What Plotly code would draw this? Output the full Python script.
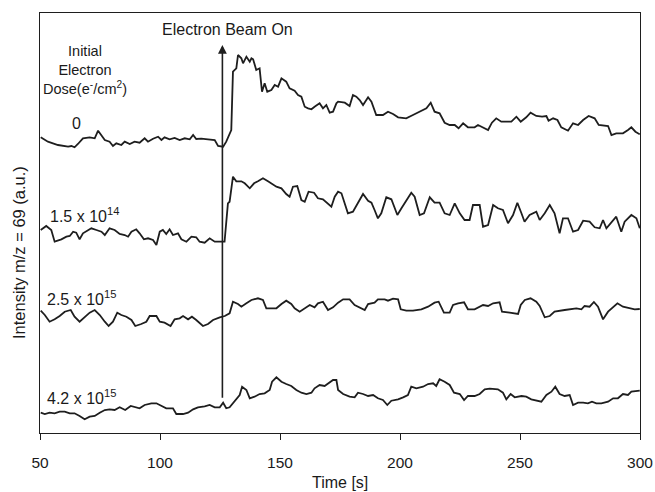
import plotly.graph_objects as go

# ---- data (time in s, intensity in arbitrary units, offsets included) ----
t0 = [50.3, 53.3, 57.5, 61.7, 63.1, 64.4, 65.8, 67.9, 70.7, 72.8, 74.2, 75.6, 77.0, 79.0, 80.4, 81.8,
      83.9, 85.3, 87.4, 89.4, 91.5, 93.6, 95.0, 97.1, 99.2, 100.6, 101.9, 104.0, 106.1, 108.2, 110.3,
      112.4, 113.8, 115.1, 117.2, 120.0, 122.8, 124.2, 126.3, 127.6, 128.6, 129.7, 130.4, 131.8, 132.5,
      133.9, 134.6, 136.0, 137.4, 138.1, 138.8, 140.1, 141.5, 142.5, 143.6, 144.7, 146.4, 147.8, 149.2,
      150.6, 152.6, 154.0, 156.1, 157.5, 158.9, 160.3, 161.7, 163.1, 164.4, 166.5, 167.9, 169.3, 170.7,
      172.1, 173.5, 174.2, 177.0, 179.0, 180.4, 181.8, 183.2, 184.6, 186.7, 188.1, 190.1, 192.9, 195.0,
      197.1, 199.2, 202.6, 205.4, 208.2, 211.0, 212.8, 214.4, 216.5, 218.6, 220.7, 222.8, 224.4, 226.3,
      228.3, 231.1, 232.5, 234.6, 236.7, 238.3, 240.1, 242.2, 246.4, 248.5, 250.3, 252.6, 254.4, 256.8,
      259.2, 261.0, 261.9, 263.8, 265.6, 267.2, 270.0, 272.1, 274.2, 276.3, 278.6, 281.1, 282.8, 286.7,
      288.1, 290.1, 292.9, 295.0, 296.4, 298.1, 299.9]
y0 = [295.7, 291.3, 288, 286.3, 287, 285.7, 289, 294.7, 295.7, 294.7, 302.3, 297, 293, 291.3, 287, 289.7,
      288, 291.3, 289, 291.3, 290.3, 294.7, 291.3, 294.3, 296.3, 293, 295.7, 293.7, 295, 293, 294.7,
      293.7, 298, 294, 294.3, 293.7, 293, 287, 286.3, 291.3, 296.3, 303, 361.3, 364.7, 378,
      374.7, 369.7, 376.3, 371.3, 374.7, 373.7, 363, 364.7, 341.3, 349.7, 341.3, 343, 348, 346.3,
      354.7, 351.3, 344.7, 342.3, 338, 336.3, 326.3, 324.7, 323.7, 326.3, 329.7, 324.7, 328, 320.3,
      321.3, 329.7, 331.3, 330.3, 327, 338, 336.3, 333, 328, 335.7, 331.3, 318, 318, 321.3,
      319, 315.7, 314.7, 318, 321.3, 324.7, 330.3, 321.3, 319.7, 310.3, 308, 308, 304.7, 309.7,
      305.7, 305.7, 308, 305.7, 303, 310.3, 314.7, 311.3, 311.3, 316.3, 311.3, 315.7, 320.3, 317,
      316.3, 317, 312.3, 314.7, 313, 305.7, 302.3, 309.7, 308, 313, 317, 314.7, 308, 307,
      298, 299.7, 299.7, 303, 305.7, 301.3, 298.7]

t1 = [50.3, 52.6, 54.7, 56.1, 58.9, 61.0, 62.4, 63.8, 65.1, 66.5, 67.9, 70.0, 71.4, 73.5, 75.6, 77.0,
      79.0, 81.1, 83.2, 85.3, 86.7, 88.1, 90.1, 91.5, 93.3, 95.0, 97.1, 98.5, 99.9, 101.2, 102.6, 104.0,
      105.4, 107.5, 108.9, 111.0, 113.1, 115.1, 116.5, 118.6, 120.7, 122.8, 125.6, 126.9, 128.3, 129.0,
      130.4, 131.8, 133.9, 135.3, 137.4, 139.2, 140.8, 142.9, 145.0, 146.4, 148.5, 150.6, 152.6, 154.0,
      155.4, 157.2, 158.9, 160.3, 161.9, 164.2, 165.8, 167.9, 169.7, 171.4, 172.8, 174.2, 175.6, 176.9,
      178.3, 180.4, 182.5, 184.6, 186.7, 188.1, 189.4, 190.8, 192.2, 194.3, 196.4, 198.9, 200.6, 202.6,
      204.7, 206.1, 208.2, 210.0, 212.4, 214.4, 216.5, 218.6, 220.7, 222.8, 224.9, 226.9, 229.0, 230.4,
      233.2, 234.6, 236.7, 238.8, 240.8, 242.9, 245.0, 247.1, 248.9, 250.6, 251.9, 254.0, 256.8, 258.2,
      260.3, 262.4, 264.4, 266.5, 267.9, 270.0, 272.1, 274.2, 276.3, 279.0, 281.1, 283.2, 284.6, 286.0,
      288.1, 290.1, 292.2, 293.6, 296.4, 298.5, 299.9]
y1 = [203, 207, 203, 191.3, 193.7, 196.3, 197, 201.3, 200.3, 193.7, 199.7, 202.3, 204.7, 203, 201.3, 198,
      204.7, 203, 199, 198, 196.3, 201.3, 203.7, 199.7, 193.7, 194.7, 193, 188, 201.3, 203, 199, 203.7,
      198, 199.7, 193.7, 191.3, 196.3, 195.7, 191.3, 190.3, 194.7, 191.3, 191.3, 191.3, 229.7, 231.3,
      256.3, 251.7, 251.7, 249.7, 244.7, 249.7, 251.7, 254.7, 251.7, 249.7, 246.3, 244.7, 239, 236.3,
      246.3, 247, 233, 231.3, 241.3, 240.3, 234.7, 233.7, 229.7, 226.3, 236.3, 241.3, 239.7, 229.7,
      219.7, 221.3, 229.7, 239, 232.3, 230.3, 223, 214.7, 219.7, 235.7, 233.7, 218, 224.7, 233,
      240.3, 236.3, 218, 219.7, 235.7, 230.3, 230.3, 219.7, 218, 229.7, 219.7, 213, 213, 228,
      228, 206.3, 208, 228, 224.7, 223, 209.7, 218, 230.3, 219.7, 211.3, 218, 221.3, 213,
      219.7, 228, 219.7, 199.7, 214.7, 214.7, 201.3, 203, 212.3, 211.3, 205.7, 204.7, 213, 204.7,
      210.3, 216.3, 201.3, 211.3, 218, 214.7, 204.7]

t2 = [50.3, 52.0, 54.0, 56.1, 58.2, 60.3, 62.8, 64.4, 66.5, 68.6, 70.7, 72.8, 74.9, 77.0, 78.6, 80.4,
      82.2, 83.9, 86.0, 88.1, 89.7, 92.2, 94.3, 95.7, 98.5, 99.9, 101.9, 104.4, 106.1, 108.2, 109.6,
      111.7, 113.3, 115.1, 117.9, 120.0, 122.1, 124.9, 127.0, 129.0, 130.4, 132.5, 133.9, 136.0, 138.1,
      140.8, 142.9, 144.3, 148.5, 150.6, 152.6, 154.7, 156.1, 158.2, 160.3, 162.4, 164.4, 165.8, 167.9,
      170.0, 172.1, 174.2, 176.3, 179.0, 181.1, 183.9, 185.3, 186.7, 189.4, 190.8, 193.6, 195.0, 197.1,
      199.2, 200.3, 202.6, 205.4, 208.9, 211.7, 214.4, 216.1, 218.3, 220.7, 222.1, 224.2, 226.7, 228.3,
      231.1, 233.2, 234.6, 236.7, 238.8, 241.5, 242.5, 245.7, 249.2, 250.3, 252.0, 254.4, 256.8, 258.2,
      260.3, 262.4, 264.4, 268.6, 271.4, 273.5, 275.6, 276.9, 279.0, 280.8, 282.5, 284.6, 286.7, 288.8,
      290.6, 292.9, 295.7, 297.8, 299.9]
y2 = [122.3, 118, 111.3, 113.7, 117, 121.3, 123, 116.3, 111.3, 116.3, 120.3, 123, 118, 111.3, 107, 111.3,
      120.3, 118, 116.3, 113, 107, 109, 111.3, 117, 117, 111.3, 110.3, 107, 113.7, 114.7, 117,
      113.7, 116.3, 113, 107, 109, 113, 115.7, 117, 119.7, 131.3, 129, 126.3, 129.7, 133,
      134.7, 133, 124.7, 124.7, 129, 132.3, 129, 124.7, 121.3, 124.7, 128, 125.7, 129.7, 131.3,
      123, 125.7, 130.3, 133.7, 133.7, 128, 124.7, 123, 129, 130.3, 133.7, 133.7, 132.3, 134.3,
      133.7, 123.7, 122.3, 122.3, 123.7, 126.3, 130.3, 131.3, 120.3, 120.3, 128, 129.7, 130.7, 123.7,
      123.7, 126.3, 128, 127, 129.7, 130.7, 121.3, 120.3, 119, 128, 133, 134.7, 131.3, 127,
      115.7, 117, 121.3, 123, 123.7, 124.7, 123.7, 127, 126.3, 131, 126.3, 113.7, 121.3, 126.3,
      129.7, 126.3, 124.7, 123.7, 124]

t3 = [50.3, 52.0, 54.0, 56.1, 58.2, 60.3, 62.4, 64.4, 66.5, 68.6, 70.7, 72.8, 74.9, 77.0, 79.0, 81.1,
      83.2, 85.5, 87.8, 89.7, 91.5, 93.6, 96.4, 98.5, 100.6, 102.6, 105.4, 106.8, 109.6, 111.7, 113.8,
      115.8, 118.6, 120.7, 122.8, 124.9, 126.3, 127.6, 129.0, 131.1, 133.2, 134.2, 136.0, 137.4, 139.4,
      141.5, 143.6, 145.7, 146.7, 148.5, 150.6, 152.6, 154.7, 156.8, 158.9, 161.0, 163.1, 164.4, 166.5,
      168.6, 170.3, 172.1, 173.5, 174.2, 176.3, 179.0, 181.1, 182.5, 184.6, 186.7, 188.8, 190.8, 192.9,
      194.7, 196.4, 199.2, 201.3, 203.3, 204.7, 206.8, 209.6, 211.7, 213.8, 215.1, 216.5, 218.6, 220.7,
      222.5, 224.9, 226.7, 228.3, 231.1, 233.2, 235.3, 237.4, 240.8, 242.9, 244.3, 246.1, 247.8, 250.6,
      252.6, 254.7, 256.8, 258.9, 261.0, 263.1, 264.7, 266.5, 268.6, 270.7, 272.1, 274.2, 276.3, 278.3,
      280.0, 281.8, 283.9, 286.7, 288.8, 290.8, 292.9, 295.0, 296.4, 299.9]
y3 = [20.3, 19, 20.3, 19.7, 21.3, 21.3, 19.7, 19.7, 17, 13.7, 16.3, 17, 20.3, 23, 23.7, 23,
      25.7, 23, 27, 25.7, 24.7, 28, 29.7, 29.7, 27, 24.7, 24.7, 19, 19, 20.3, 23.7,
      25.7, 26.7, 28, 25.7, 25.7, 30.3, 24.7, 25.7, 31.3, 38, 46.3, 43, 34.7, 36.3,
      39, 39.7, 43, 51.3, 55.7, 51.3, 49, 47, 43, 40.3, 39, 40.3, 44.7, 48,
      47, 49.7, 53, 53, 43, 39, 36.3, 35.7, 40.3, 39, 37, 38, 34.7, 33,
      28, 32.3, 33.7, 35.7, 38, 46.3, 44.7, 46.3, 49, 49.7, 47, 53.7, 51.3, 48,
      40.3, 39, 33, 37, 37, 39, 43.7, 44.3, 43.7, 40.3, 33.7, 39, 35.7, 37,
      36.3, 33.7, 32.3, 31.3, 38, 41.3, 46.3, 39, 37, 38, 28, 30.3, 30.3, 29.7,
      31.3, 29.7, 29.7, 31.3, 34.7, 34.7, 39, 38, 41.3, 42.3]

dose_labels = ["0", "1.5 x 10<sup>14</sup>", "2.5 x 10<sup>15</sup>", "4.2 x 10<sup>15</sup>"]
x_ticks = [50, 100, 150, 200, 250, 300]
beam_on_time = 126

FONT = "Liberation Sans, Arial, Helvetica, sans-serif"
LINE = "#1e1e1e"
TXT = "#1a1a1a"

fig = go.Figure()
for tt, yy in [(t0, y0), (t1, y1), (t2, y2), (t3, y3)]:
    fig.add_trace(go.Scatter(x=tt, y=yy, mode="lines",
                             line=dict(color=LINE, width=1.8), showlegend=False,
                             hoverinfo="skip"))

annotations = [
    # beam arrow
    dict(x=beam_on_time, y=388, ax=beam_on_time, ay=33.7, xref="x", yref="y", axref="x", ayref="y",
         text="", showarrow=True, arrowhead=2, arrowsize=1.1, arrowwidth=1.6, arrowcolor=LINE),
    dict(x=128.3, y=404, xref="x", yref="y", text="Electron Beam On", showarrow=False,
         font=dict(size=16, color=TXT, family=FONT), xanchor="center", yanchor="middle"),
    dict(x=68.8, y=363, xref="x", yref="y",
         text="Initial<br>Electron<br>Dose(e<sup>-</sup>/cm<sup>2</sup>)", showarrow=False,
         font=dict(size=14.5, color=TXT, family=FONT), xanchor="center", yanchor="middle",
         align="center"),
    dict(x=65.4, y=310, xref="x", yref="y", text=dose_labels[0], showarrow=False,
         font=dict(size=16, color=TXT, family=FONT), xanchor="center", yanchor="middle"),
    dict(x=53.3, y=218, xref="x", yref="y", text=dose_labels[1], showarrow=False,
         font=dict(size=16, color=TXT, family=FONT), xanchor="left", yanchor="middle"),
    dict(x=52.1, y=135, xref="x", yref="y", text=dose_labels[2], showarrow=False,
         font=dict(size=16, color=TXT, family=FONT), xanchor="left", yanchor="middle"),
    dict(x=52.1, y=36, xref="x", yref="y", text=dose_labels[3], showarrow=False,
         font=dict(size=16, color=TXT, family=FONT), xanchor="left", yanchor="middle"),
    # axis titles
    dict(x=0, y=0.5, xref="paper", yref="paper", text="Intensity m/z = 69 (a.u.)",
         showarrow=False, textangle=-90, xanchor="center", yanchor="middle", xshift=-21,
         yshift=-30, font=dict(size=16.5, color=TXT, family=FONT)),
    dict(x=0.5, y=0, xref="paper", yref="paper", text="Time [s]", showarrow=False,
         xanchor="center", yanchor="middle", yshift=-49,
         font=dict(size=16, color=TXT, family=FONT)),
]

fig.update_layout(
    template="none",
    width=655, height=492,
    margin=dict(l=40, r=15, t=13, b=59, autoexpand=False),
    paper_bgcolor="white", plot_bgcolor="white",
    font=dict(family=FONT, size=15.5, color=TXT),
    annotations=annotations,
    xaxis=dict(range=[50, 300], tickvals=x_ticks, ticks="outside", ticklen=6, tickwidth=1.2,
               tickcolor=LINE, showline=True, linecolor=LINE, linewidth=1.2, mirror=True,
               showgrid=False, zeroline=False, automargin=False, ticklabelstandoff=9,
               tickfont=dict(size=15.5, family=FONT, color=TXT)),
    yaxis=dict(range=[0, 420], showticklabels=False, ticks="", showline=True, linecolor=LINE,
               linewidth=1.2, mirror=True, showgrid=False, zeroline=False, automargin=False),
)

fig.write_html("out.html")
